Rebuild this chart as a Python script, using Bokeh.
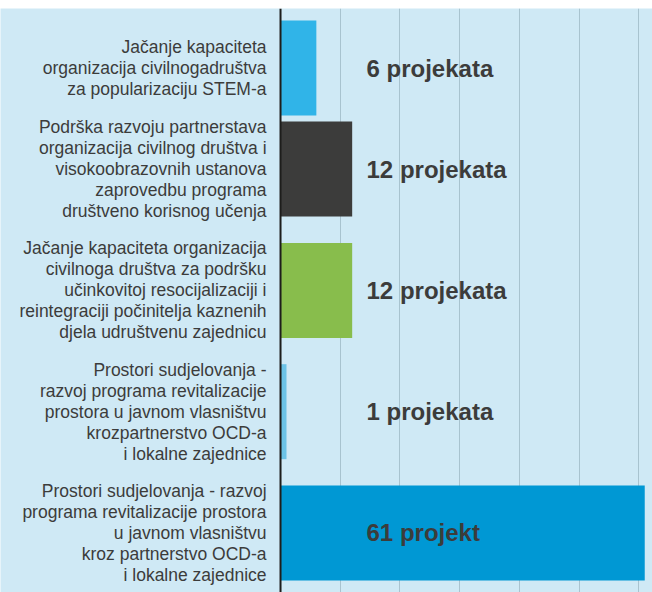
from bokeh.plotting import figure
from bokeh.models import ColumnDataSource, FactorRange, LabelSet, Span, FixedTicker
from bokeh.core.properties import value
from bokeh.embed import file_html
from bokeh.resources import INLINE

categories = [
    "Jačanje kapaciteta\norganizacija civilnogadruštva\nza popularizaciju STEM-a",
    "Podrška razvoju partnerstava\norganizacija civilnog društva i\nvisokoobrazovnih ustanova\nzaprovedbu programa\ndruštveno korisnog učenja",
    "Jačanje kapaciteta organizacija\ncivilnoga društva za podršku\nučinkovitoj resocijalizaciji i\nreintegraciji počinitelja kaznenih\ndjela udruštvenu zajednicu",
    "Prostori sudjelovanja -\nrazvoj programa revitalizacije\nprostora u javnom vlasništvu\nkrozpartnerstvo OCD-a\ni lokalne zajednice",
    "Prostori sudjelovanja - razvoj\nprograma revitalizacije prostora\nu javnom vlasništvu\nkroz partnerstvo OCD-a\ni lokalne zajednice",
]
groups = ["a", "a", "b", "c", "d"]
values = [6, 12, 12, 1, 61]
value_labels = ["6 projekata", "12 projekata", "12 projekata", "1 projekata", "61 projekt"]
colors = ["#30b4e8", "#3c3c3b", "#88bd4c", "#6cc3e6", "#0098d4"]
grid_ticks = [10, 20, 30, 40, 50, 60]

BG = "#cfe9f5"
TXT = "#3c3c3b"
FONT = value("Liberation Sans")
LINE_H = 21.0 / 101.0   # line spacing in category units

factors = [(g, c) for g, c in zip(groups, categories)]

src = ColumnDataSource(dict(
    y=factors,
    value=values,
    color=colors,
    vlabel=value_labels,
    zero=[0] * len(values),
))

# one row per text line of each category label, placed with factor offsets
ly, ltext = [], []
for (g, c) in factors:
    lines = c.split("\n")
    n = len(lines)
    for i, line in enumerate(lines):
        ly.append((g, c, ((n - 1) / 2 - i) * LINE_H))
        ltext.append(line)
lsrc = ColumnDataSource(dict(y=ly, text=ltext, zero=[0] * len(ly)))

y_range = FactorRange(*list(reversed(factors)), group_padding=0.2,
                      range_padding=0.089, range_padding_units="absolute")

# x range extends to the left so the label area lies inside the frame
p = figure(width=652, height=592, y_range=y_range, x_range=(-46.9, 62.3),
           output_backend="svg", toolbar_location=None,
           min_border_left=0, min_border_right=0, min_border_top=8, min_border_bottom=0)

p.background_fill_color = BG
p.border_fill_color = "white"
p.outline_line_color = None

p.hbar(y="y", right="value", left=0, height=0.94, color="color", line_color=None, source=src)

p.xaxis.visible = False
p.yaxis.visible = False
p.ygrid.grid_line_color = None
p.xgrid.ticker = FixedTicker(ticks=grid_ticks)
p.xgrid.grid_line_color = "#a8c3cf"
p.xgrid.grid_line_width = 1

p.add_layout(Span(location=0, dimension="height", line_color="#1d1d1b", line_width=2))

p.add_layout(LabelSet(x="zero", y="y", text="text", source=lsrc, x_offset=-14,
                      text_align="right", text_baseline="middle",
                      text_font=FONT, text_font_size="17.5px", text_color=TXT))

p.add_layout(LabelSet(x="zero", y="y", text="vlabel", source=src, x_offset=86,
                      text_align="left", text_baseline="middle",
                      text_font=FONT, text_font_size="24px",
                      text_font_style="bold", text_color=TXT))

open("out.html", "w").write(file_html(p, INLINE))
